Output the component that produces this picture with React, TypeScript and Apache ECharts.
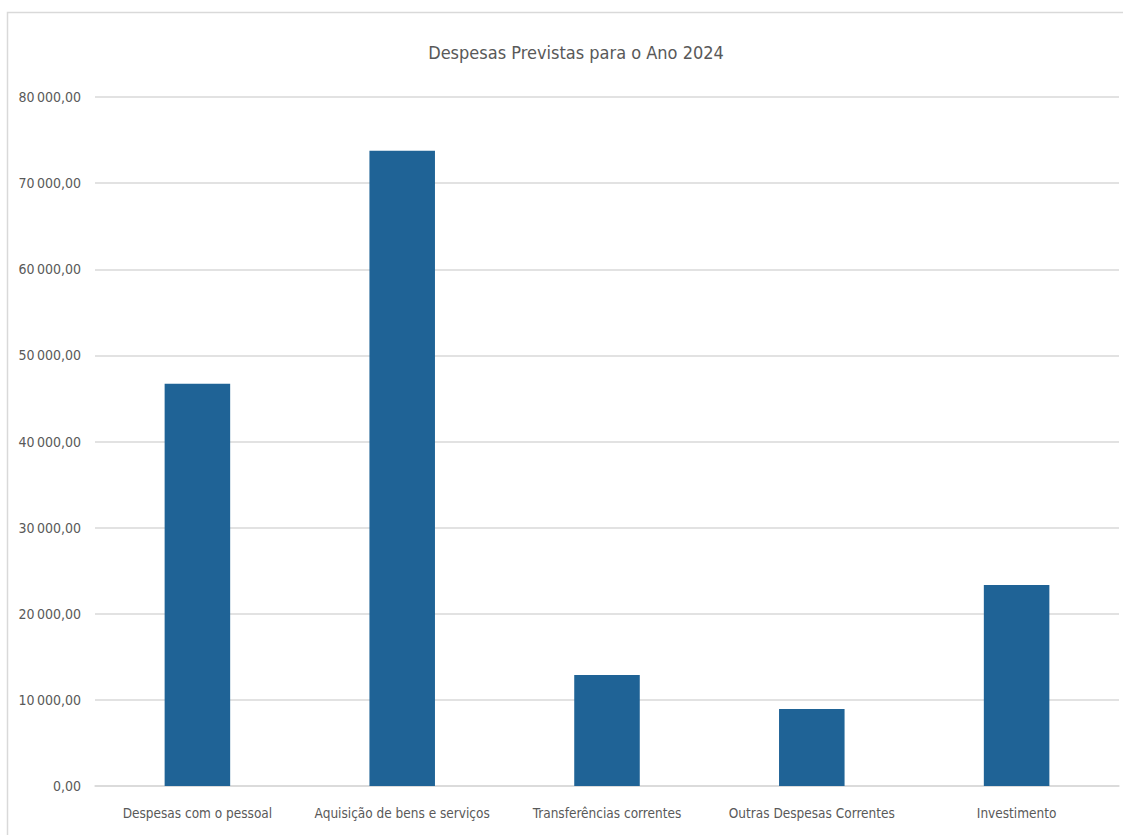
import React, { useEffect, useRef } from "react";
import * as echarts from "echarts";

const categories = [
  "Despesas com o pessoal",
  "Aquisição de bens e serviços",
  "Transferências correntes",
  "Outras Despesas Correntes",
  "Investimento",
];
const values = [46700, 73750, 12900, 8950, 23350];
const titleText = "Despesas Previstas para o Ano 2024";

const FONT = "'DejaVu Sans Condensed', 'Liberation Sans Narrow', 'Open Sans', sans-serif";

function fmt(v: number): string {
  const s = v.toFixed(2).split(".");
  const int = s[0].replace(/\B(?=(\d{3})+(?!\d))/g, "\u202f");
  return int + "," + s[1];
}

export default function App() {
  const ref = useRef<HTMLDivElement>(null);
  useEffect(() => {
    if (!ref.current) return;
    const chart = echarts.init(ref.current, null, { renderer: "svg" });
    chart.setOption({
      animation: false,
      backgroundColor: "#ffffff",
      title: {
        text: titleText,
        left: 571,
        textAlign: "center",
        top: 38,
        textStyle: { fontFamily: FONT, fontSize: 18, fontWeight: "normal", color: "#595959" },
      },
      graphic: [
        {
          type: "rect",
          shape: { x: 7.5, y: 12.5, width: 1300, height: 1000 },
          style: { fill: "none", stroke: "#d9d9d9", lineWidth: 1.5 },
          silent: true,
        },
      ],
      grid: { left: 95, right: 4, top: 97, bottom: 49, containLabel: false },
      xAxis: {
        type: "category",
        data: categories,
        axisLine: { show: true, lineStyle: { color: "#d9d9d9", width: 1.5 } },
        axisTick: { show: false },
        axisLabel: { fontFamily: FONT, fontSize: 13.5, color: "#595959", margin: 20, interval: 0 },
      },
      yAxis: {
        type: "value",
        min: 0,
        max: 80000,
        interval: 10000,
        axisLine: { show: false },
        axisTick: { show: false },
        splitLine: { lineStyle: { color: "#d9d9d9", width: 1.5 } },
        axisLabel: {
          fontFamily: FONT,
          fontSize: 14,
          color: "#595959",
          margin: 14,
          formatter: (v: number) => fmt(v),
        },
      },
      series: [
        {
          type: "bar",
          data: values,
          barWidth: "32%",
          itemStyle: { color: "#1f6396" },
        },
      ],
    });
    return () => chart.dispose();
  }, []);
  return (
    <div
      ref={ref}
      style={{ position: "absolute", left: 0, top: 0, width: 1123, height: 835 }}
    />
  );
}
